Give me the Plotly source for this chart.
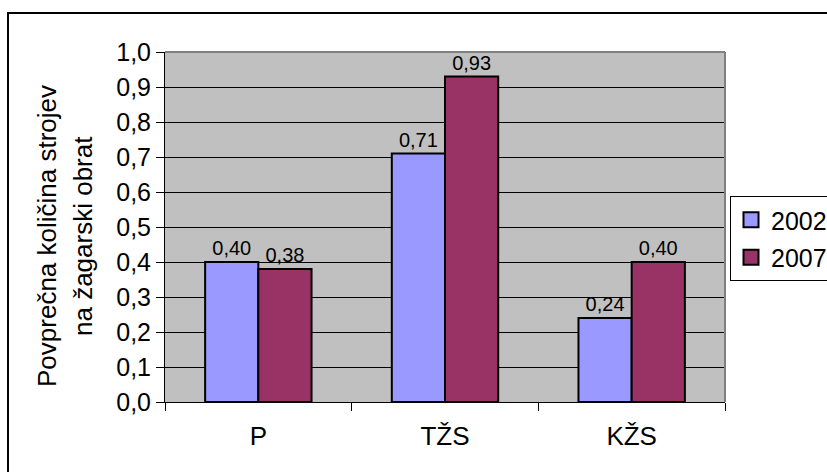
import plotly.graph_objects as go

# Data
categories = ["P", "TŽS", "KŽS"]
years = ["2002", "2007"]
values_2002 = [0.40, 0.71, 0.24]
values_2007 = [0.38, 0.93, 0.40]
y_ticks = [0.0, 0.1, 0.2, 0.3, 0.4, 0.5, 0.6, 0.7, 0.8, 0.9, 1.0]
title_lines = ["Povprečna količina strojev", "na žagarski obrat"]

colors = {"2002": "#9999FF", "2007": "#993366"}
font_family = "Liberation Sans, Arial, sans-serif"

W, H = 827, 472
L, R, T, B = 165, 102, 52, 70
pw, ph = W - L - R, H - T - B


def px_x(x):
    return (x - L) / pw


def px_y(y):
    return 1 - (y - T) / ph


fig = go.Figure()
for yr, vals in zip(years, [values_2002, values_2007]):
    fig.add_trace(go.Bar(
        x=categories, y=vals, name=yr,
        marker=dict(color=colors[yr], line=dict(color="black", width=2)),
        text=vals, texttemplate="%{y:.2f}", textposition="outside",
        textfont=dict(size=20, color="black", family=font_family),
        cliponaxis=False, showlegend=False,
    ))
    # square legend key
    fig.add_trace(go.Scatter(
        x=[None], y=[None], mode="markers", name=yr,
        marker=dict(symbol="square", size=15, color=colors[yr],
                    line=dict(color="black", width=2)),
        legendgroup=yr,
    ))

fig.update_layout(
    width=W, height=H,
    margin=dict(l=L, r=R, t=T, b=B, autoexpand=False),
    paper_bgcolor="white", plot_bgcolor="#C0C0C0",
    separators=", ",
    barmode="group", bargap=0.43, bargroupgap=0,
    font=dict(family=font_family, size=25, color="black"),
    legend=dict(
        x=px_x(730), y=px_y(196), xanchor="left", yanchor="top",
        bgcolor="white", bordercolor="black", borderwidth=1,
        font=dict(size=25), tracegroupgap=2, itemwidth=30,
    ),
    showlegend=True,
)

fig.update_xaxes(
    showline=True, linecolor="black", linewidth=1,
    ticks="outside", ticklen=8, tickcolor="black", tickson="boundaries",
    ticklabelstandoff=11, showgrid=False, tickfont=dict(size=26),
)
fig.update_yaxes(
    range=[0, 1.0], tickvals=y_ticks, tickformat=".1f",
    showline=True, linecolor="black", linewidth=1,
    ticks="outside", ticklen=8, tickcolor="black",
    showgrid=True, gridcolor="black", gridwidth=1, zeroline=False,
)

# Plot-area border on top and right
fig.add_shape(type="line", xref="paper", yref="paper", x0=0, x1=1, y0=1, y1=1,
              line=dict(color="#808080", width=2))
fig.add_shape(type="line", xref="paper", yref="paper", x0=1, x1=1, y0=0, y1=1,
              line=dict(color="#808080", width=2))

# Outer chart frame
fig.add_shape(type="rect", xref="paper", yref="paper",
              x0=px_x(8), x1=px_x(W + 20), y0=px_y(H + 20), y1=px_y(13),
              line=dict(color="black", width=2), fillcolor="rgba(0,0,0,0)")

# Axis title, two rotated lines
for line, cx in zip(title_lines, [47, 83]):
    fig.add_annotation(
        text=line, xref="paper", yref="paper",
        x=px_x(cx), y=px_y(236), xanchor="center", yanchor="middle",
        textangle=-90, showarrow=False, font=dict(size=26),
    )

fig.write_html("out.html")
